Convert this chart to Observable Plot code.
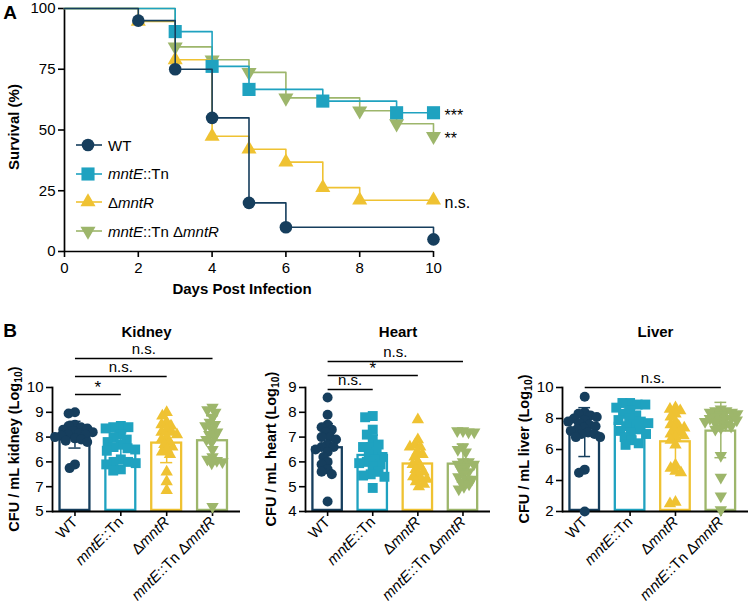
<!DOCTYPE html>
<html><head><meta charset="utf-8">
<script src="https://cdn.jsdelivr.net/npm/d3@7"></script>
<script src="https://cdn.jsdelivr.net/npm/@observablehq/plot@0.6"></script>
<style>
body{margin:0;background:#fff;font-family:"Liberation Sans",Arial,Helvetica,sans-serif;}
#root{position:relative;width:750px;height:608px;overflow:hidden;background:#fff;}
#root svg{position:absolute;overflow:visible;}
.lbl{position:absolute;white-space:nowrap;color:#000;line-height:1;}
.lbl sub{font-size:0.72em;vertical-align:-0.3em;line-height:0;}
.leg{position:absolute;display:flex;align-items:center;font-size:15px;color:#000;white-space:nowrap;}
.leg svg{position:static !important;margin-right:5px;}
</style></head>
<body><div id="root"></div>
<script>
// ---------------- DATA ----------------
const strains = ["WT", "mntE::Tn", "ΔmntR", "mntE::Tn ΔmntR"];
const colors = ["#163e5d", "#1fa2c0", "#efc232", "#9db66b"];

// Panel A: Kaplan-Meier survival (%), days post infection
const survDaysWT = [0, 2, 3, 4, 5, 6, 10];
const survWT = [100, 95, 75, 55, 20, 10, 5];
const survDaysMntE = [0, 3, 4, 5, 7, 9, 10];
const survMntE = [100, 90.5, 76.2, 66.7, 61.9, 57.1, 57.1];
const survDaysMntR = [0, 2, 3, 4, 5, 6, 7, 8, 10];
const survMntR = [100, 94.7, 78.9, 47.4, 42.1, 36.8, 26.3, 21.1, 21.1];
const survDaysDouble = [0, 3, 4, 5, 6, 8, 9, 10];
const survDouble = [100, 84.2, 78.9, 73.7, 63.2, 57.9, 52.6, 47.4];
const survSig = ["", "***", "n.s.", "**"];
const dayTicks = [0, 2, 4, 6, 8, 10];
const survTicks = [0, 25, 50, 75, 100];

// Panel B: CFU (log10) per organ
const kidneyWT = [9.0, 8.95, 8.5, 8.45, 8.4, 8.35, 8.3, 8.25, 8.2, 8.15, 8.1, 8.1, 8.05, 8.0, 7.95, 7.9, 7.85, 7.8, 6.9, 6.75];
const kidneyMntE = [8.45, 8.4, 8.4, 8.35, 8.1, 8.0, 7.9, 7.8, 7.7, 7.6, 7.55, 7.5, 7.45, 7.1, 7.0, 7.0, 6.95, 6.9, 6.7, 6.65];
const kidneyMntR = [9.0, 8.85, 8.6, 8.5, 8.45, 8.3, 8.2, 8.2, 8.1, 8.0, 7.9, 7.8, 7.7, 7.6, 7.5, 7.4, 7.3, 6.6, 6.2, 5.85];
const kidneyDouble = [9.2, 9.1, 9.0, 8.8, 8.6, 8.5, 8.45, 8.3, 8.2, 8.1, 8.0, 7.9, 7.8, 7.5, 7.2, 7.1, 7.05, 7.0, 6.95, 5.2];
const kidneyTicks = [5, 6, 7, 8, 9, 10];
const kidneyTickLabels = ["5", "7", "6", "8", "9", "10"];
const kidneySig = [["WT", "mntE::Tn", "*"], ["WT", "ΔmntR", "n.s."], ["WT", "mntE::Tn ΔmntR", "n.s."]];

const heartWT = [8.6, 7.9, 7.5, 7.4, 7.3, 7.2, 7.0, 7.0, 6.9, 6.7, 6.6, 6.6, 6.5, 6.4, 6.2, 6.0, 5.9, 5.7, 5.6, 5.5, 4.4];
const heartMntE = [7.85, 7.8, 7.3, 7.1, 6.9, 6.6, 6.7, 6.6, 6.4, 6.3, 6.2, 6.1, 6.0, 5.95, 5.9, 5.8, 5.6, 5.5, 5.45, 5.4, 4.95];
const heartMntR = [7.7, 6.9, 6.7, 6.6, 6.6, 6.4, 6.3, 6.2, 6.0, 5.9, 5.8, 5.7, 5.6, 5.5, 5.4, 5.3, 5.3, 5.2, 5.1, 5.0];
const heartDouble = [7.25, 7.25, 7.2, 7.2, 6.6, 6.5, 6.4, 6.0, 5.9, 6.0, 5.9, 5.8, 5.7, 5.6, 5.5, 5.4, 5.3, 5.3, 5.2, 5.1, 5.0, 4.9];
const heartTicks = [4, 5, 6, 7, 8, 9];
const heartTickLabels = ["4", "5", "6", "7", "8", "9"];
const heartSig = [["WT", "mntE::Tn", "n.s."], ["WT", "ΔmntR", "*"], ["WT", "mntE::Tn ΔmntR", "n.s."]];

const liverWT = [9.4, 8.4, 8.3, 8.2, 8.1, 8.0, 7.9, 7.8, 7.7, 7.6, 7.5, 7.4, 7.3, 7.2, 7.1, 7.0, 7.0, 6.8, 6.8, 4.7, 4.5, 2.0];
const liverMntE = [9.0, 9.0, 8.9, 8.9, 8.7, 8.5, 8.3, 8.2, 8.0, 7.9, 7.8, 7.7, 7.6, 7.5, 7.3, 7.2, 7.1, 7.0, 6.8, 6.6, 6.4, 6.3];
const liverMntR = [8.7, 8.6, 8.5, 8.3, 8.1, 7.8, 7.6, 7.5, 7.4, 7.3, 7.1, 7.0, 6.9, 6.8, 6.6, 6.3, 5.0, 4.8, 4.6, 4.5, 2.6, 2.5];
const liverDouble = [8.6, 8.5, 8.5, 8.4, 8.4, 8.3, 8.2, 8.1, 8.0, 8.0, 8.0, 7.9, 7.8, 7.8, 7.7, 7.6, 7.5, 7.4, 7.3, 5.6, 4.2, 3.0, 2.1];
const liverTicks = [2, 4, 6, 8, 10];
const liverTickLabels = ["2", "4", "6", "8", "10"];
const liverSig = [["WT", "mntE::Tn ΔmntR", "n.s."]];

// ---------------- HELPERS ----------------
const FONT = '"Liberation Sans", Arial, Helvetica, sans-serif';
const root = document.getElementById("root");
const sqrt3 = Math.sqrt(3);
const triangleDown = {draw(context, size) {
  const y = -Math.sqrt(size / (sqrt3 * 3));
  context.moveTo(0, -y * 2);
  context.lineTo(-sqrt3 * y, y);
  context.lineTo(sqrt3 * y, y);
  context.closePath();
}};
const symbols = ["circle", "square", "triangle", triangleDown];
const d3symbols = [d3.symbolCircle, d3.symbolSquare, d3.symbolTriangle, triangleDown];
const richHTML = s => s.replace(/(mntE|mntR)/g, "<i>$1</i>");

function put(svg, left, top) {
  svg.style.left = left + "px"; svg.style.top = top + "px";
  root.appendChild(svg);
}
function addLabel(html, cx, cy, size, rotate, weight = "bold") {
  const d = document.createElement("div");
  d.className = "lbl"; d.innerHTML = html;
  d.style.fontSize = size + "px"; d.style.fontWeight = weight;
  d.style.left = cx + "px"; d.style.top = cy + "px";
  d.style.transform = "translate(-50%,-50%)" + (rotate ? ` rotate(${rotate}deg)` : "");
  root.appendChild(d);
}
function italicizeTicks(svg) {
  svg.querySelectorAll('[aria-label="x-axis tick label"] text').forEach(t => {
    const s = t.textContent; t.textContent = "";
    s.split(/(mntE|mntR)/).filter(Boolean).forEach(part => {
      const ts = document.createElementNS("http://www.w3.org/2000/svg", "tspan");
      ts.textContent = part;
      if (part === "mntE" || part === "mntR") ts.setAttribute("font-style", "italic");
      t.appendChild(ts);
    });
  });
}
function thickenAxes(svg, w) {
  svg.querySelectorAll('[aria-label$="-axis tick"] path').forEach(p => p.setAttribute("stroke-width", w));
}

// ---------------- PANEL A ----------------
const survDays = [survDaysWT, survDaysMntE, survDaysMntR, survDaysDouble];
const survVals = [survWT, survMntE, survMntR, survDouble];
const survRows = strains.map((s, k) => survDays[k].map((d, i) => ({strain: s, k, day: d, surv: survVals[k][i], idx: i, n: survDays[k].length})));
const markerR = [6.3, 7.4, 5.6, 5.6];
const drawOrder = [3, 2, 1, 0];

const plotA = Plot.plot({
  width: 480, height: 300,
  marginLeft: 64, marginRight: 47, marginTop: 8, marginBottom: 49,
  style: {fontFamily: FONT, fontSize: "15px", color: "#000", background: "transparent", overflow: "visible"},
  x: {domain: [0, 10]},
  y: {domain: [0, 100]},
  marks: [
    Plot.ruleX([0], {strokeWidth: 1.7}),
    Plot.ruleY([0], {strokeWidth: 1.7}),
    Plot.axisX({ticks: dayTicks, tickSize: 6, tickPadding: 5, label: null, fontSize: 15}),
    Plot.axisY({ticks: survTicks, tickSize: 6, tickPadding: 3, label: null, fontSize: 15}),
    ...drawOrder.flatMap(k => [
      Plot.line(survRows[k], {x: "day", y: "surv", curve: "step-after", stroke: colors[k], strokeWidth: 1.6}),
      Plot.dot(survRows[k].filter(d => d.idx > 0), {x: "day", y: "surv", r: markerR[k], symbol: symbols[k], fill: colors[k], stroke: "none"})
    ]),
    Plot.text(survRows.map(r => r[r.length - 1]).filter(d => survSig[d.k]), {
      x: "day", y: "surv", text: d => survSig[d.k], dx: 11, dy: 3, textAnchor: "start", fontSize: 16
    })
  ]
});
thickenAxes(plotA, 1.6);
put(plotA, 0, 0);

// legend (panel A)
const legY0 = 145, legStep = 28.7;
strains.forEach((s, k) => {
  const div = document.createElement("div");
  div.className = "leg";
  const path = d3.symbol().type(d3symbols[k]).size(Math.PI * markerR[k] * markerR[k])();
  div.innerHTML = `<svg width="27" height="20" viewBox="0 0 27 20"><line x1="0" x2="26" y1="10" y2="10" stroke="${colors[k]}" stroke-width="1.6"/><path transform="translate(12,10)" d="${path}" fill="${colors[k]}"/></svg><span>${richHTML(s)}</span>`;
  div.style.left = "76px";
  div.style.top = (legY0 + k * legStep - 10) + "px";
  root.appendChild(div);
});

addLabel("A", 10, 12, 19);
addLabel("Survival (%)", 13, 127, 15, -90);
addLabel("Days Post Infection", 242, 288, 15);

// ---------------- PANEL B ----------------
const band = {paddingInner: 0.3, paddingOuter: 0.2, align: 0.35, round: false};
const dotR = [5, 5.6, 4.6, 4.6];

function organ(cfg) {
  const {title, values, ticks, tickLabels, sig, left, ml, mr, sigBase, sigStep} = cfg;
  const width = 250, height = 308, mt = 87, mb = 97;
  const domain = [ticks[0], ticks[ticks.length - 1]];
  const stats = strains.map((g, i) => ({group: g, mean: d3.mean(values[i]), sd: d3.deviation(values[i])}));
  const sx = Plot.scale({x: {type: "band", domain: strains, range: [ml, width - mr], ...band}});
  const sigRows = sig.map(([from, to, label], k) => ({from, to, label, k,
    half: (sx.apply(to) - sx.apply(from)) / 2}));
  const style = {fontFamily: FONT, fontSize: "15px", color: "#000", background: "transparent", overflow: "visible"};

  const main = Plot.plot({
    width, height, marginLeft: ml, marginRight: mr, marginTop: mt, marginBottom: mb, style,
    x: {domain: strains, ...band},
    y: {domain},
    color: {domain: strains, range: colors},
    marks: [
      Plot.barY(stats, {x: "group", y1: domain[0], y2: "mean", fill: "white", stroke: "group", strokeWidth: 2.3, inset: 1.1}),
      Plot.ruleX(stats, {x: "group", y1: d => d.mean - d.sd, y2: d => d.mean + d.sd, stroke: "group", strokeWidth: 1.5}),
      Plot.tickY(stats, {x: "group", y: d => d.mean - d.sd, stroke: "group", strokeWidth: 1.5, insetLeft: 10, insetRight: 10}),
      Plot.tickY(stats, {x: "group", y: d => d.mean + d.sd, stroke: "group", strokeWidth: 1.5, insetLeft: 10, insetRight: 10}),
      Plot.frame({anchor: "left", strokeWidth: 1.8}),
      Plot.ruleY([domain[0]], {strokeWidth: 1.8}),
      Plot.axisY({ticks, tickFormat: d => tickLabels[ticks.indexOf(d)], tickSize: 6, tickPadding: 3, label: null, fontSize: 15}),
      Plot.axisX({tickRotate: -45, tickSize: 5, tickPadding: 3, label: null, fontSize: 15}),
      ...sigRows.map(r => Plot.link([r], {x1: "from", x2: "to", y1: domain[1], y2: domain[1], dy: sigBase - r.k * sigStep, strokeWidth: 1.6, stroke: "#000"})),
      ...sigRows.map(r => Plot.text([r], {x: "from", y: domain[1], text: "label", dx: r.half, dy: sigBase - r.k * sigStep - (r.label === "*" ? 2 : 9), lineAnchor: r.label === "*" ? "bottom" : "middle", fontSize: r.label === "*" ? 17 : 15})),
      Plot.text([title], {frameAnchor: "top", lineAnchor: "middle", dy: -55, text: d => d, fontWeight: "bold", fontSize: 15})
    ]
  });
  thickenAxes(main, 1.6);
  italicizeTicks(main);
  put(main, left, 300);

  const dots = Plot.plot({
    width, height, marginLeft: ml, marginRight: mr, marginTop: mt, marginBottom: mb, style,
    fx: {domain: strains, ...band, axis: null, label: null},
    y: {domain, axis: null},
    marks: strains.map((g, i) => Plot.dot(values[i].map(v => ({group: g, v})),
      Plot.dodgeX({anchor: "middle", padding: -3.5}, {fx: "group", y: "v", r: dotR[i], symbol: symbols[i], fill: colors[i], stroke: "none"})))
  });
  put(dots, left, 300);
}

organ({title: "Kidney", values: [kidneyWT, kidneyMntE, kidneyMntR, kidneyDouble], ticks: kidneyTicks, tickLabels: kidneyTickLabels,
  sig: kidneySig, left: 0, ml: 52, mr: 10, sigBase: 7, sigStep: 18});
organ({title: "Heart", values: [heartWT, heartMntE, heartMntR, heartDouble], ticks: heartTicks, tickLabels: heartTickLabels,
  sig: heartSig, left: 250, ml: 55, mr: 10, sigBase: 2, sigStep: 14});
organ({title: "Liver", values: [liverWT, liverMntE, liverMntR, liverDouble], ticks: liverTicks, tickLabels: liverTickLabels,
  sig: liverSig, left: 500, ml: 62, mr: 2, sigBase: 0, sigStep: 14});

addLabel("B", 10, 330, 19);
addLabel("CFU / mL kidney (Log<sub>10</sub>)", 14, 449, 14.5, -90);
addLabel("CFU / mL heart (Log<sub>10</sub>)", 271, 449, 14.5, -90);
addLabel("CFU / mL liver (Log<sub>10</sub>)", 524, 449, 14.5, -90);
</script>
</body></html>
